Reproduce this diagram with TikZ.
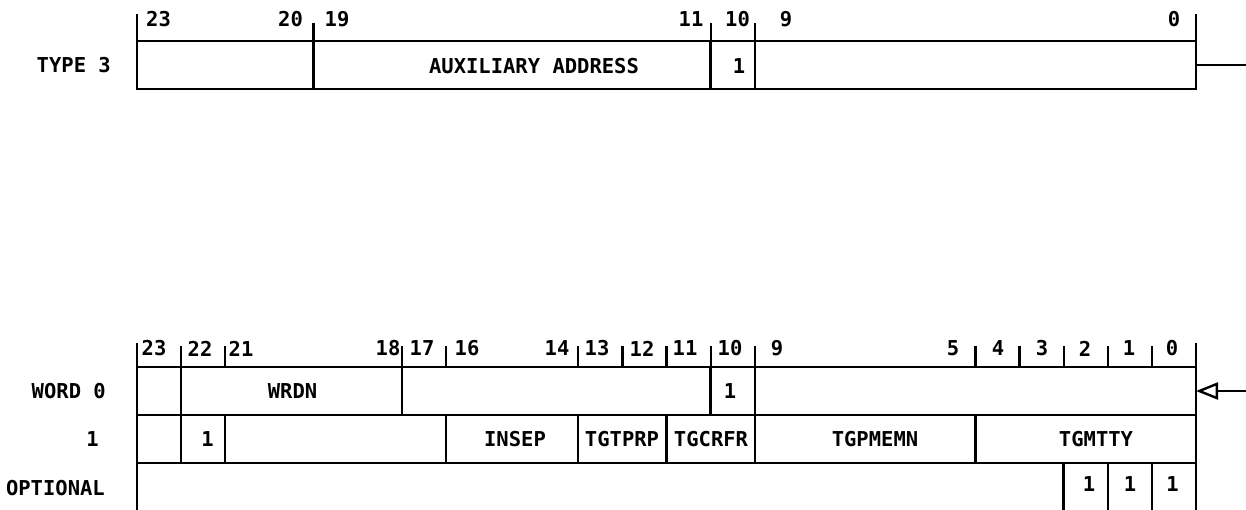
\documentclass[tikz,border=0pt]{standalone}
\usepackage{fontspec}
\setmainfont{DejaVu Sans Mono}
\usetikzlibrary{arrows.meta}
\newcommand\fld[5]{\node[fieldbox, minimum width={#3-#2}, minimum height={#5-#4}] (#1) at ({(#2+#3)/2},{(#4+#5)/2}) {};}
\begin{document}
\begin{tikzpicture}[x=1pt,y=-1pt,
  line width=2.4pt,
  fieldbox/.style={draw, rectangle, inner sep=0pt, outer sep=0pt},
  txt/.style={inner sep=0pt, font=\bfseries\fontsize{20.5}{20.5}\selectfont},
  rowlbl/.style={txt, anchor=east},
  tick/.style={line width=2.2pt}]
\useasboundingbox (0,0) rectangle (1246,510);
\clip (0,0) rectangle (1246,510);
% ---------- TYPE 3 register ----------
\fld{tA}{137}{313.5}{41}{89}
\fld{tB}{313.5}{710.6}{41}{89}
\fld{tC}{710.6}{754.75}{41}{89}
\fld{tD}{754.75}{1196}{41}{89}
\draw[tick] (tA.north west) -- ++(0,-27);
\draw[tick] (tD.north east) -- ++(0,-27);
\draw[tick] (tB.north west) -- ++(0,-18);
\draw[tick] (tC.north west) -- ++(0,-18);
\draw[tick] (tD.north west) -- ++(0,-18);
\node[txt] (h23) at (158.5,19) {23};
\node[txt] (h20) at (290.5,19) {20};
\node[txt] (h19) at (337,19) {19};
\node[txt] (h11) at (691,19) {11};
\node[txt] (h10) at (737.5,19) {10};
\node[txt] (h9) at (786,19) {9};
\node[txt] (h0) at (1174,19) {0};
\node[txt] (lAux) at (534,66) {AUXILIARY ADDRESS};
\node[txt] (lT1) at (739,66) {1};
\node[rowlbl] (lType) at (112,65.5) {TYPE 3};
\coordinate (tEnd) at (1246,65);
\draw (tD.east) -- (tEnd);
% ---------- WORD 0 ----------
\fld{a0}{137}{181.1}{367}{415}
\fld{a1}{181.1}{401.75}{367}{415}
\fld{a2}{401.75}{710.6}{367}{415}
\fld{a3}{710.6}{754.75}{367}{415}
\fld{a4}{754.75}{1196}{367}{415}
% ---------- WORD 1 ----------
\fld{b0}{137}{181.1}{415}{463}
\fld{b1}{181.1}{225.25}{415}{463}
\fld{b2}{225.25}{445.9}{415}{463}
\fld{b3}{445.9}{578.25}{415}{463}
\fld{b4}{578.25}{666.5}{415}{463}
\fld{b5}{666.5}{754.75}{415}{463}
\fld{b6}{754.75}{975.4}{415}{463}
\fld{b7}{975.4}{1196}{415}{463}
% ---------- OPTIONAL ----------
\fld{c0}{137}{1063.6}{463}{525}
\fld{c1}{1063.6}{1107.75}{463}{525}
\fld{c2}{1107.75}{1151.9}{463}{525}
\fld{c3}{1151.9}{1196}{463}{525}
% header ticks
\draw[tick] (137,367) -- (137,343);
\draw[tick] (1196,367) -- (1196,343);
\foreach \x in {181.1,225.25,401.75,445.9,578.25,622.4,666.5,710.6,754.75,975.4,1019.5,1063.6,1107.75,1151.9}
  \draw[tick] (\x,367) -- (\x,346);
\foreach \n/\x/\t in {g23/154/23,g22/200/22,g21/241/21,g18/388/18,g17/422/17,g16/467/16,g14/557/14,g13/597/13,g12/642/12,g11/685/11,g10/730/10,g9/777/9,g5/953/5,g4/998/4,g3/1042/3,g2/1085/2,g1/1129/1,g0/1172/0}
  \node[txt] (\n) at (\x,348.5) {\t};
\node[txt] (lWrdn) at (292.5,391) {WRDN};
\node[txt] (lA1) at (730,391) {1};
\node[txt] (lB1) at (207.5,439) {1};
\node[txt] (lInsep) at (515,439) {INSEP};
\node[txt] (lTgtprp) at (622,439) {TGTPRP};
\node[txt] (lTgcrfr) at (711,439) {TGCRFR};
\node[txt] (lTgpmemn) at (875,439) {TGPMEMN};
\node[txt] (lTgmtty) at (1096,439) {TGMTTY};
\node[txt] (lC1) at (1089,484) {1};
\node[txt] (lC2) at (1130,484) {1};
\node[txt] (lC3) at (1172.5,484) {1};
\node[rowlbl] (lWord) at (107,391) {WORD 0};
\node[rowlbl] (lOne) at (100,439) {1};
\node[rowlbl] (lOpt) at (106,488) {OPTIONAL};
\coordinate (bEnd) at (1246,391);
\draw[-{Triangle[open,length=22pt,width=17pt]}] (bEnd) -- (a4.east);
\end{tikzpicture}
\end{document}
